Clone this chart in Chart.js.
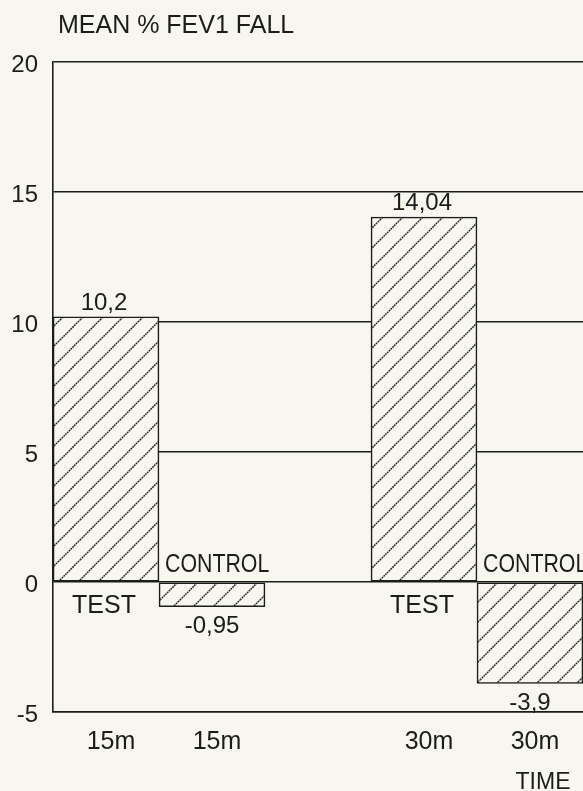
<!DOCTYPE html>
<html>
<head>
<meta charset="utf-8">
<script src="https://cdn.jsdelivr.net/npm/chart.js@4/dist/chart.umd.min.js"></script>
<style>
  html, body { margin: 0; padding: 0; background: #f7f6ef; }
  canvas { display: block; }
</style>
</head>
<body>
<canvas id="chart" width="583" height="791"></canvas>
<script>
// data
const categories = ["15m", "15m", "", "30m", "30m"];
const groups = ["TEST", "CONTROL", "", "TEST", "CONTROL"];
const fevFall = [10.2, -0.95, null, 14.04, -3.9];
const valueLabels = ["10,2", "-0,95", "", "14,04", "-3,9"];
const yMin = -5;
const yMax = 20;
const yStep = 5;

const INK = "#1c1c1c";
const PAPER = "#f7f6ef";
const FONT = "'Liberation Sans', Arial, sans-serif";

// diagonal hatch used as bar fill
function makeHatch() {
  const s = 20;
  const c = document.createElement("canvas");
  c.width = s;
  c.height = s;
  const g = c.getContext("2d");
  g.fillStyle = PAPER;
  g.fillRect(0, 0, s, s);
  g.strokeStyle = "#2a2a2a";
  g.lineWidth = 1.5;
  g.setLineDash([1.8, 0.7]);
  g.beginPath();
  g.moveTo(0, s); g.lineTo(s, 0);
  g.moveTo(-2, 2); g.lineTo(2, -2);
  g.moveTo(s - 2, s + 2); g.lineTo(s + 2, s - 2);
  g.stroke();
  return g.createPattern(c, "repeat");
}

const ctx = document.getElementById("chart").getContext("2d");

const paper = {
  id: "paper",
  beforeDraw(chart) {
    const c = chart.ctx;
    c.save();
    c.fillStyle = PAPER;
    c.fillRect(0, 0, chart.width, chart.height);
    c.restore();
  }
};

const annotations = {
  id: "annotations",
  afterDatasetsDraw(chart) {
    const c = chart.ctx;
    const meta = chart.getDatasetMeta(0);
    const y0 = chart.scales.y.getPixelForValue(0);
    c.save();
    c.fillStyle = INK;
    fevFall.forEach((v, i) => {
      if (v === null) return;
      const bar = meta.data[i];
      // value label
      c.font = "24px " + FONT;
      c.textAlign = "center";
      if (v >= 0) {
        c.textBaseline = "alphabetic";
        c.fillText(valueLabels[i], bar.x - 2, bar.y - 7);
      } else {
        c.textBaseline = "top";
        c.fillText(valueLabels[i], bar.x, bar.y + 8);
      }
      // group label
      if (groups[i] === "TEST") {
        c.font = "25px " + FONT;
        c.textAlign = "center";
        c.textBaseline = "alphabetic";
        c.fillText(groups[i], bar.x - 2, y0 + 31);
      } else {
        c.save();
        c.font = "26px " + FONT;
        c.textAlign = "left";
        c.textBaseline = "alphabetic";
        const left = bar.x - bar.width / 2 + 6;
        c.translate(left, y0 - 10);
        c.scale(0.82, 1);
        c.fillText(groups[i], 0, 0);
        c.restore();
      }
    });
    c.restore();
  },
  afterDraw(chart) {
    const c = chart.ctx;
    c.save();
    c.fillStyle = INK;
    c.textBaseline = "alphabetic";
    c.font = "25px " + FONT;
    c.textAlign = "left";
    c.fillText("MEAN % FEV1 FALL", 58, 33);
    c.font = "23px " + FONT;
    c.textAlign = "center";
    c.fillText("TIME", 543, 789);
    c.restore();
  }
};

new Chart(ctx, {
  type: "bar",
  data: {
    labels: categories,
    datasets: [{
      data: fevFall,
      backgroundColor: makeHatch(),
      borderColor: INK,
      borderWidth: 1.6,
      borderSkipped: false,
      barPercentage: 1,
      categoryPercentage: 1
    }]
  },
  options: {
    responsive: false,
    animation: false,
    layout: { padding: { top: 62, right: 0, bottom: 0, left: 0 } },
    plugins: {
      legend: { display: false },
      title: { display: false },
      tooltip: { enabled: false }
    },
    scales: {
      x: {
        grid: { display: false, drawTicks: false },
        border: { display: true, color: INK, width: 1.6 },
        ticks: {
          color: INK,
          font: { size: 25, family: FONT },
          padding: 15,
          labelOffset: 5,
          maxRotation: 0,
          autoSkip: false
        },
        afterFit(scale) { scale.height = 79; }
      },
      y: {
        min: yMin,
        max: yMax,
        grid: { color: INK, lineWidth: 1.5, drawTicks: false },
        border: { display: true, color: INK, width: 1.6 },
        ticks: {
          stepSize: yStep,
          color: INK,
          font: { size: 24, family: FONT },
          padding: 15,
          labelOffset: 3
        },
        afterFit(scale) { scale.width = 53; }
      }
    }
  },
  plugins: [paper, annotations]
});
</script>
</body>
</html>
